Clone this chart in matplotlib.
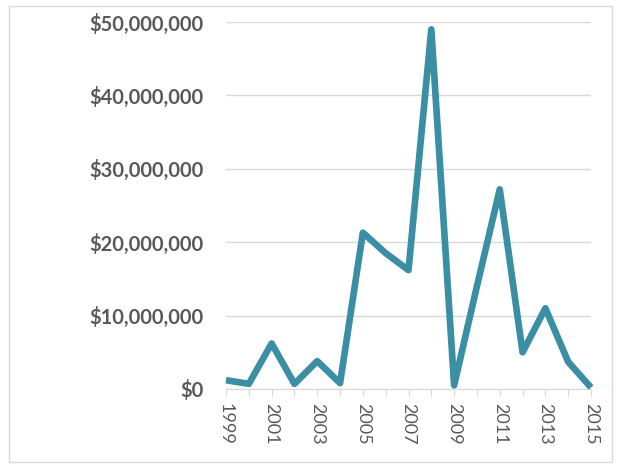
import matplotlib
matplotlib.use("Agg")
import matplotlib.pyplot as plt
from matplotlib.patches import Rectangle
from matplotlib.ticker import FuncFormatter

years = list(range(1999, 2016))
amounts = [1.2e6, 0.7e6, 6.2e6, 0.7e6, 3.8e6, 0.8e6, 21.3e6, 18.5e6, 16.2e6,
           49.0e6, 0.5e6, 14.0e6, 27.2e6, 5.0e6, 11.0e6, 3.7e6, 0.2e6]
tick_years = years[::2]

fig = plt.figure(figsize=(6.18, 4.68), dpi=100)
fig.patches.append(Rectangle((9 / 618, 6 / 468), 603 / 618, 456 / 468,
                             transform=fig.transFigure, fill=False,
                             edgecolor='#d9d9d9', linewidth=1))
ax = fig.add_axes([226 / 618, 1 - 389 / 468, 365 / 618, 367 / 468])

ax.plot(years, amounts, color='#3a8fa5', linewidth=4.8, solid_joinstyle='round',
        solid_capstyle='butt', zorder=3, clip_on=False)

ax.set_xlim(1999, 2015)
ax.set_ylim(0, 50e6)
ax.set_yticks([0, 10e6, 20e6, 30e6, 40e6, 50e6])
ax.yaxis.set_major_formatter(FuncFormatter(lambda v, p: f"${v:,.0f}"))
ax.set_xticks(years, minor=False)
ax.set_xticklabels([str(y) if y in tick_years else '' for y in years],
                   rotation=-90, fontsize=13, color='#595959', family='Lato')
for lbl in ax.get_yticklabels():
    lbl.set_fontsize(14.5)
    lbl.set_fontweight('bold')
    lbl.set_color('#595959')
    lbl.set_family('Lato')

ax.grid(axis='y', color='#d9d9d9', linewidth=1)
ax.set_axisbelow(True)
for s in ['top', 'right', 'left']:
    ax.spines[s].set_visible(False)
ax.spines['bottom'].set_color('#d9d9d9')
ax.tick_params(axis='y', length=0, pad=16)
ax.tick_params(axis='x', length=5, color='#d9d9d9', direction='out', pad=5)

fig.savefig('out.png', dpi=100)
